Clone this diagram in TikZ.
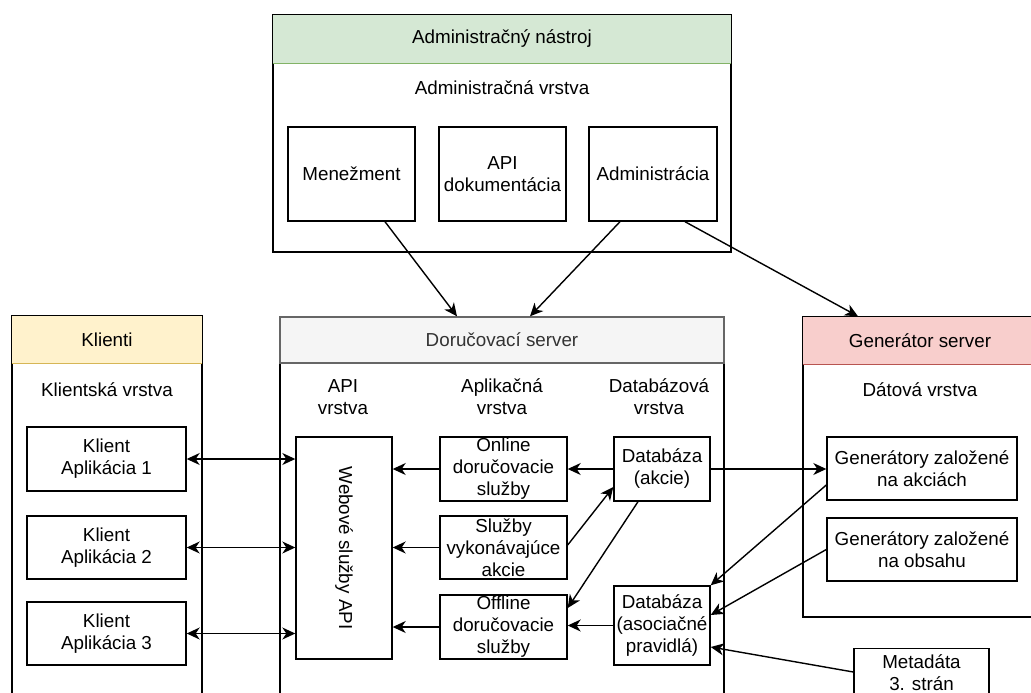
\documentclass[tikz,border=0pt]{standalone}
\usepackage{fontspec}
\setmainfont{Liberation Sans}
\usetikzlibrary{arrows.meta}
\definecolor{admfill}{HTML}{D5E8D4}
\definecolor{admline}{HTML}{82B366}
\definecolor{klifill}{HTML}{FFF2CC}
\definecolor{kliline}{HTML}{D6B656}
\definecolor{genfill}{HTML}{F8CECC}
\definecolor{genline}{HTML}{B85450}
\definecolor{dorfill}{HTML}{F5F5F5}
\definecolor{dorline}{HTML}{666666}
\definecolor{dortext}{HTML}{333333}
\begin{document}
\begin{tikzpicture}[x=1pt,y=-1pt,
  every node/.style={font=\fontsize{18.8}{22}\selectfont, align=center, inner sep=0pt},
  box/.style={draw=black, line width=1.4pt, fill=white, minimum width=#1, rectangle},
  lane/.style={draw=black, line width=1.4pt, rectangle},
  head/.style={rectangle, line width=1.4pt},
  lbl/.style={},
  tip/.style={},
  conn/.style={line width=1.4pt, -{Stealth[length=13pt,width=12pt,inset=4pt]}},
  both/.style={line width=1.4pt, {Stealth[length=13pt,width=12pt,inset=4pt]}-{Stealth[length=13pt,width=12pt,inset=4pt]}}]
\useasboundingbox (0,0) rectangle (1031,693);
\clip (0,0) rectangle (1031,693);

% administration tool
\node[lane, minimum width=458pt, minimum height=237pt] (adm) at (502,133.5) {};
\node[head, fill=admfill, minimum width=458pt, minimum height=48pt] (admh) at (502,39) {Administračný nástroj};
\draw[admline, line width=1.4pt] (admh.south west) -- (admh.south east);
\draw[line width=1.4pt] (adm.north west) rectangle (adm.south east);
\node[lbl] (admlbl) at (502,88) {Administračná vrstva};
\node[box=127pt, minimum height=94pt] (men) at (351.5,174) {Menežment};
\node[box=127pt, minimum height=94pt] (apid) at (502.5,174) {API\\dokumentácia};
\node[box=128pt, minimum height=94pt] (admi) at (653,174) {Administrácia};

% clients
\node[lane, minimum width=190pt, minimum height=404pt] (kli) at (107,518) {};
\node[head, fill=klifill, minimum width=190pt, minimum height=47pt] (klih) at (107,339.5) {Klienti};
\draw[kliline, line width=1.4pt] (klih.south west) -- (klih.south east);
\draw[line width=1.4pt] (kli.north west) rectangle (kli.south east);
\node[lbl] (klilbl) at (107,390) {Klientská vrstva};
\node[box=159pt, minimum height=64pt] (k1) at (106.5,459) {Klient\\Aplikácia 1};
\node[box=159pt, minimum height=63pt] (k2) at (106.5,547.5) {Klient\\Aplikácia 2};
\node[box=159pt, minimum height=63pt] (k3) at (106.5,633.5) {Klient\\Aplikácia 3};

% delivery server
\node[lane, minimum width=444pt, minimum height=403pt] (dor) at (502,518.5) {};
\node[head, draw=dorline, fill=dorfill, text=dortext, minimum width=444pt, minimum height=46pt] (dorh) at (502,340) {Doručovací server};
\node[lbl] (apil) at (343,397) {API\\vrstva};
\node[lbl] (appl) at (502,397) {Aplikačná\\vrstva};
\node[lbl] (dbl) at (659,397) {Databázová\\vrstva};
\node[box=96pt, minimum height=222pt] (web) at (344,548) {};
\node[rotate=-90] (webt) at (web.center) {Webové služby API};
\node[box=127pt, minimum height=64pt] (onl) at (503.5,469) {Online\\doručovacie\\služby};
\node[box=127pt, minimum height=63pt] (sl) at (503.5,547.5) {Služby\\vykonávajúce\\akcie};
\node[box=127pt, minimum height=64pt] (off) at (503.5,627) {Offline\\doručovacie\\služby};
\node[box=96pt, minimum height=64pt] (dba) at (662,469) {Databáza\\(akcie)};
\node[box=96pt, minimum height=79pt] (dbs) at (662,625.5) {Databáza\\(asociačné\\pravidlá)};

% generator server
\node[lane, minimum width=234pt, minimum height=300pt] (gen) at (920,467) {};
\node[head, fill=genfill, minimum width=234pt, minimum height=47pt] (genh) at (920,340.5) {Generátor server};
\draw[genline, line width=1.4pt] (genh.south west) -- (genh.south east);
\draw[line width=1.4pt] (gen.north west) rectangle (gen.south east);
\node[lbl] (genlbl) at (920,390) {Dátová vrstva};
\node[box=190pt, minimum height=63pt] (ga) at (922,468.5) {Generátory založené\\na akciách};
\node[box=190pt, minimum height=63pt] (go) at (922,549.5) {Generátory založené\\na obsahu};
\node[box=135pt, minimum height=48pt] (meta) at (921.5,672.5) {Metadáta\\3. strán};

% connectors from the administration tool
\draw[conn] ([xshift=33.5pt]men.south) -- ([xshift=-45pt]dor.north);
\draw[conn] ([xshift=-33pt]admi.south) -- ([xshift=28pt]dor.north);
\draw[conn] ([xshift=32pt]admi.south) -- ([xshift=-62pt]gen.north);

% clients and web services
\draw[both] (k1.east) -- (k1.east -| web.west);
\draw[both] (k2.east) -- (k2.east -| web.west);
\draw[both] (k3.east) -- (k3.east -| web.west);

% application layer to web services
\draw[conn] (onl.west) -- (onl.west -| web.east);
\draw[conn] (sl.west) -- (sl.west -| web.east);
\draw[conn] (off.west) -- (off.west -| web.east);

% database layer
\draw[conn] (dba.west) -- (onl.east);
\draw[conn] (dba.east) -- (dba.east -| ga.west);
\draw[conn] ([yshift=2.5pt]sl.east) -- ([yshift=-18pt]dba.west);
\draw[conn] ([xshift=-24pt]dba.south) -- ([yshift=19pt]off.east);
\draw[conn] (dbs.west) -- (dbs.west -| off.east);
\draw[conn] ([yshift=-16.5pt]ga.west) -- (dbs.north east);
\draw[conn] (go.west) -- ([yshift=10.5pt]dbs.east);
\draw[conn] ([yshift=0.5pt]meta.west) -- ([yshift=-21.5pt]dbs.east);
\end{tikzpicture}
\end{document}
